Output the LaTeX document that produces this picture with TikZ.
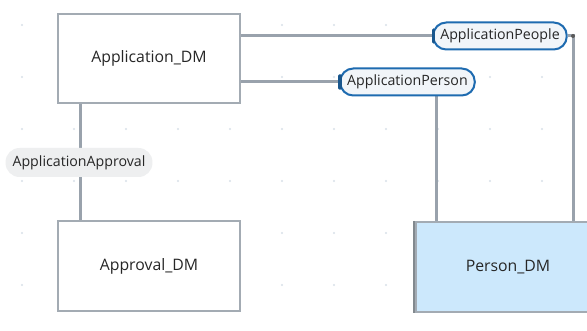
\documentclass[tikz,border=0pt]{standalone}
\usepackage{fontspec}
\setmainfont{Open Sans}
\usetikzlibrary{backgrounds}
\definecolor{boxline}{HTML}{A3ABB3}
\definecolor{conn}{HTML}{99A2AC}
\definecolor{txt}{HTML}{262626}
\definecolor{lblblue}{HTML}{1E6BB0}
\definecolor{lblfill}{HTML}{F1F5F9}
\definecolor{grayfill}{HTML}{EEEFF0}
\definecolor{persfill}{HTML}{CCE8FC}
\definecolor{griddot}{HTML}{D8E0E9}
\tikzset{
  entity/.style={draw=boxline, line width=2pt, fill=white, minimum width=182pt, minimum height=89pt, inner sep=0pt, font=\fontsize{15.8}{19}\selectfont, text=txt},
  rel/.style={draw=lblblue, line width=2pt, fill=lblfill, rounded corners=13pt, minimum height=27pt, inner xsep=7pt, inner ysep=0pt, font=\fontsize{14.2}{17}\selectfont, text=txt},
  relgray/.style={fill=grayfill, rounded corners=14pt, minimum height=29pt, inner xsep=7pt, inner ysep=0pt, font=\fontsize{14.2}{17}\selectfont, text=txt},
  connector/.style={draw=conn, line width=3pt},
  relmark/.style={draw=lblblue!80!black, line width=3.5pt, line cap=round}
}
\begin{document}
\begin{tikzpicture}[x=1pt, y=-1pt]
\useasboundingbox (0,0) rectangle (587,331);
\node[entity] (app) at (149,58.5) {Application\_DM};
\node[entity, minimum height=90pt] (approval) at (149,266) {Approval\_DM};
\node[entity, fill=persfill, minimum width=184pt, minimum height=90pt, anchor=north west] (person) at (415,221) {Person\_DM};
\node[rel] (lpeople) at (500,36) {ApplicationPeople};
\node[rel] (lperson) at (407.5,82) {ApplicationPerson};
\node[relgray] (lapproval) at (79,162.5) {ApplicationApproval};
\coordinate (corner) at (573,36);
\coordinate (pv) at (436,82);
\coordinate (av) at (80,162);
\begin{pgfonlayer}{background}
\fill[white] (0,0) rectangle (587,331);
\foreach \i in {0,...,11} {
  \foreach \j in {0,...,6} {
    \fill[griddot] (22+52*\i, 25+52*\j) circle (1.1pt);
  }
}
\draw[connector] (app.east |- lpeople) -- (lpeople.west);
\draw[connector] (lpeople.east) -- (corner) -- (corner |- person.north);
\draw[connector] (app.east |- lperson) -- (lperson.west);
\draw[connector] (pv |- lperson.south) -- (pv |- person.north);
\draw[connector] (av |- app.south) -- (av |- approval.north);
\end{pgfonlayer}
\draw[relmark] ([xshift=1pt,yshift=-6pt]lpeople.west) -- ([xshift=1pt,yshift=6pt]lpeople.west);
\draw[relmark] ([xshift=1pt,yshift=-6pt]lperson.west) -- ([xshift=1pt,yshift=6pt]lperson.west);
\fill[black!65] (corner) circle (2pt);
\draw[boxline!80!black, line width=1.5pt] ([xshift=-1pt]person.north west) -- ([xshift=-1pt]person.south west);
\end{tikzpicture}
\end{document}
